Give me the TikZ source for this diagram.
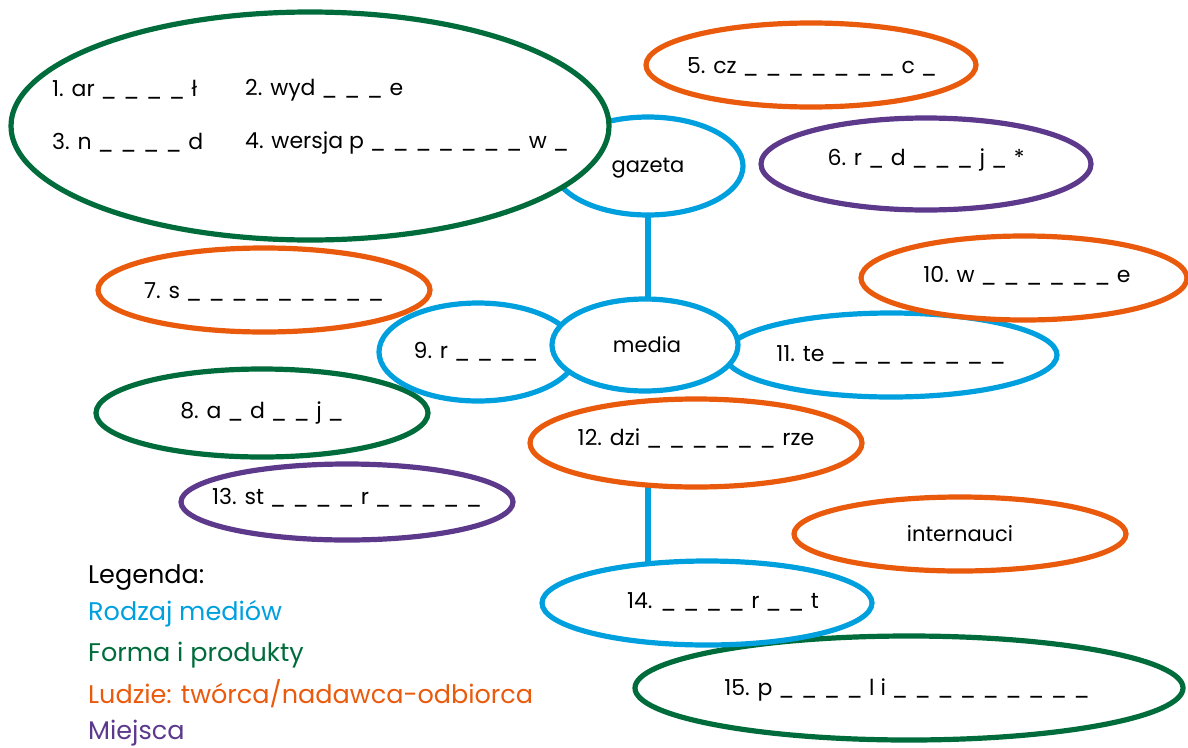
\documentclass[tikz,border=0pt]{standalone}
\usepackage{fontspec}
\setmainfont{Poppins}
\usetikzlibrary{shapes.geometric}
\definecolor{cblue}{RGB}{0,160,223}
\definecolor{cgreen}{RGB}{0,108,59}
\definecolor{corange}{RGB}{234,90,12}
\definecolor{cpurple}{RGB}{93,57,140}
\newcommand{\bl}{\_\hspace{0.3em}}
\begin{document}
\begin{tikzpicture}[x=1pt,y=-1pt,
  ell/.style={ellipse, draw=#1, line width=5.2pt, fill=white, inner sep=0pt},
  txt/.style={font=\fontsize{22}{26}\selectfont, inner sep=0pt, text=black},
  stxt/.style={font=\fontsize{21}{24}\selectfont, inner sep=0pt, text=black},
  leg/.style={font=\fontsize{25.5}{30}\selectfont, inner sep=0pt, anchor=west},
  link/.style={draw=cblue, line width=5.2pt}
  ]
\useasboundingbox (0,0) rectangle (1188,747);

% positions of the shapes that the connectors join
\coordinate (gazc) at (648,166);
\coordinate (medc) at (645,345);
\coordinate (e12c) at (696,443);
\coordinate (e14c) at (707,603);
\path[link] (gazc) -- (gazc |- medc);
\path[link] (gazc |- e12c) -- (gazc |- e14c);

% gazeta and big green
\node[ell=cblue, minimum width=190pt, minimum height=98pt] (gaz) at (gazc) {};
\node[stxt] (tgaz) at (648,168) {gazeta};
\node[ell=cgreen, minimum width=598pt, minimum height=228pt] (big) at (310,126) {};
\node[txt, anchor=west] (t1) at (52,90) {1. ar \bl\bl\bl\bl ł};
\node[txt, anchor=west] (t2) at (245,90) {2. wyd \bl\bl\bl e};
\node[txt, anchor=west] (t3) at (52,143) {3. n \bl\bl\bl\bl d};
\node[txt, anchor=west] (t4) at (245,143) {4. wersja p \bl\bl\bl\bl\bl\bl\bl w \_};

% top right
\node[ell=corange, minimum width=330pt, minimum height=84pt] (e5) at (811,65) {};
\node[txt] (t5) at (812,67) {5. cz \bl\bl\bl\bl\bl\bl\bl c \_};
\node[ell=cpurple, minimum width=330pt, minimum height=92pt] (e6) at (926,164) {};
\node[txt] (t6) at (926,160) {6. r \bl d \bl\bl\bl j \bl *};

% left side
\node[ell=corange, minimum width=332pt, minimum height=84pt] (e7) at (264,290) {};
\node[txt] (t7) at (264,292) {7. s \bl\bl\bl\bl\bl\bl\bl\bl\_};
\node[ell=cgreen, minimum width=332pt, minimum height=88pt] (e8) at (262,413) {};
\node[txt] (t8) at (262,413) {8. a \bl d \bl\bl j \_};
\node[ell=cpurple, minimum width=332pt, minimum height=76pt] (e13) at (347,502) {};
\node[txt] (t13) at (347,498) {13. st \bl\bl\bl\bl r \bl\bl\bl\bl\_};
\node[ell=cblue, minimum width=198pt, minimum height=98pt] (e9) at (478,352) {};
\node[txt] (t9) at (476,352) {9. r \bl\bl\bl\_};

% right side
\node[ell=cblue, minimum width=332pt, minimum height=84pt] (e11) at (891,355) {};
\node[txt] (t11) at (891,355) {11. te \bl\bl\bl\bl\bl\bl\bl\_};
\node[ell=corange, minimum width=326pt, minimum height=84pt] (e10) at (1024,278) {};
\node[txt] (t10) at (1027,276) {10. w \bl\bl\bl\bl\bl\bl e};

% media on top
\node[ell=cblue, minimum width=186pt, minimum height=92pt] (med) at (medc) {};
\node[stxt] (tmed) at (647,345) {media};

% lower middle
\node[ell=corange, minimum width=332pt, minimum height=88pt] (e12) at (e12c) {};
\node[txt] (t12) at (696,438) {12. dzi \bl\bl\bl\bl\bl\bl rze};
\node[ell=corange, minimum width=332pt, minimum height=74pt] (ein) at (960,534) {};
\node[stxt] (tin) at (960,534) {internauci};
\node[ell=cgreen, minimum width=548pt, minimum height=104pt] (e15) at (909,688) {};
\node[txt] (t15) at (907,690) {15. p \bl\bl\bl\bl l i \bl\bl\bl\bl\bl\bl\bl\bl\_};
\node[ell=cblue, minimum width=330pt, minimum height=84pt] (e14) at (e14c) {};
\node[txt] (t14) at (723,602) {14. \bl\bl\bl\bl r \bl\bl t};

% legend
\node[leg, text=black] (l0) at (88,577) {Legenda:};
\node[leg, text=cblue] (l1) at (88,614) {Rodzaj mediów};
\node[leg, text=cgreen] (l2) at (88,655) {Forma i produkty};
\node[leg, text=corange] (l3) at (88,694) {Ludzie: twórca/nadawca-odbiorca};
\node[leg, text=cpurple] (l4) at (88,733) {Miejsca};
\end{tikzpicture}
\end{document}
